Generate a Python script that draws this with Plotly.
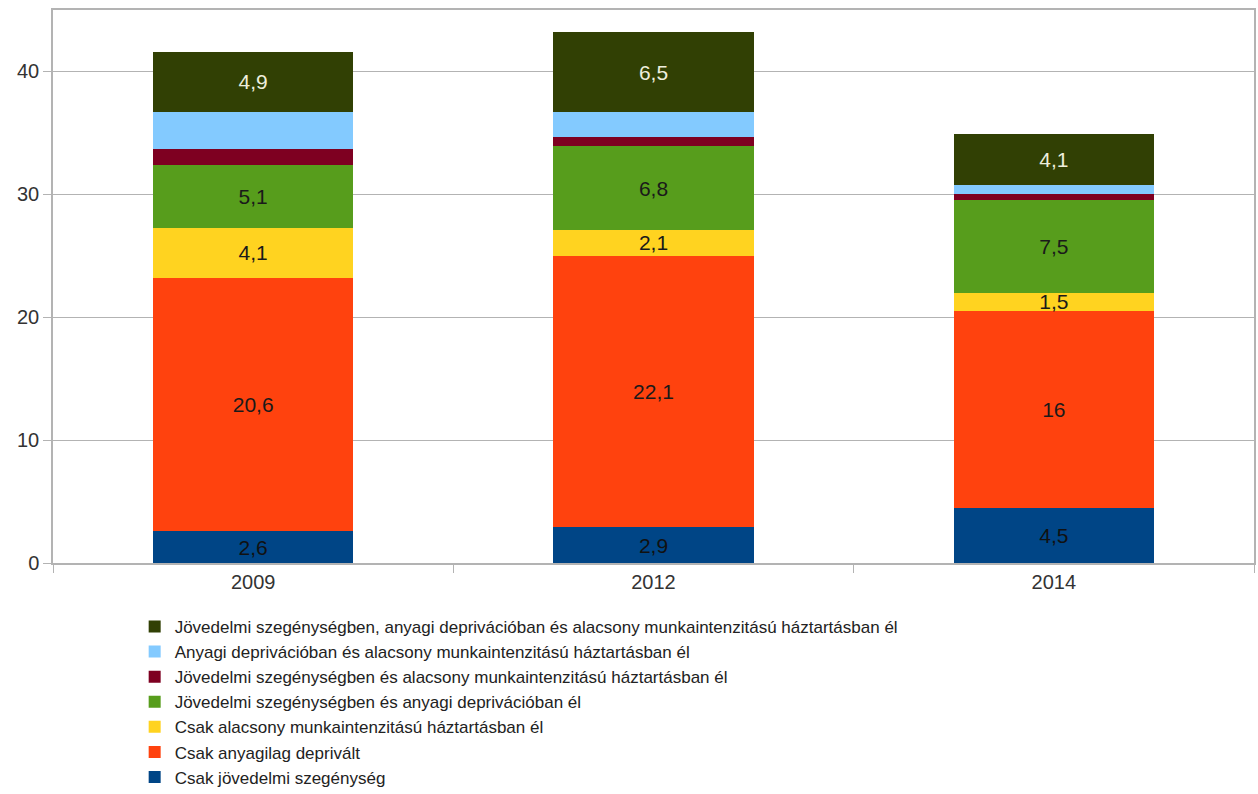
import plotly.graph_objects as go

years = ["2009", "2012", "2014"]

series_names = [
    "Csak jövedelmi szegénység",
    "Csak anyagilag deprivált",
    "Csak alacsony munkaintenzitású háztartásban él",
    "Jövedelmi szegénységben és anyagi deprivációban él",
    "Jövedelmi szegénységben és alacsony munkaintenzitású háztartásban él",
    "Anyagi deprivációban és alacsony munkaintenzitású háztartásban él",
    "Jövedelmi szegénységben, anyagi deprivációban és alacsony munkaintenzitású háztartásban él",
]

csak_jovedelmi = [2.6, 2.9, 4.5]
csak_anyagi = [20.6, 22.1, 16.0]
csak_munka = [4.1, 2.1, 1.5]
jov_anyagi = [5.1, 6.8, 7.5]
jov_munka = [1.3, 0.8, 0.5]
anyagi_munka = [3.0, 2.0, 0.8]
mindharom = [4.9, 6.5, 4.1]

series_values = [csak_jovedelmi, csak_anyagi, csak_munka, jov_anyagi,
                 jov_munka, anyagi_munka, mindharom]
show_labels = [True, True, True, True, False, False, True]

colors = ["#004586", "#ff420e", "#ffd320", "#579d1c", "#7e0021", "#83caff", "#314004"]
label_colors = ["#111111", "#1a1a1a", "#1a1a1a", "#1a1a1a", "#1a1a1a", "#1a1a1a", "#eeeedd"]


def fmt(v):
    s = ("%g" % v)
    return s.replace(".", ",")


fig = go.Figure()
for name, vals, show, col, lcol in zip(series_names, series_values, show_labels, colors, label_colors):
    fig.add_trace(go.Bar(
        x=years, y=vals, name=name,
        marker=dict(color=col, line=dict(width=0)),
        text=[fmt(v) for v in vals] if show else None,
        textposition="inside" if show else "none",
        insidetextanchor="middle",
        textangle=0,
        insidetextfont=dict(family="Liberation Sans", size=21, color=lcol),
        hoverinfo="x+y+name",
    ))

grid = "#b3b3b3"
fig.update_layout(
    barmode="stack",
    bargap=0.5,
    width=1258, height=794,
    margin=dict(l=53, r=4, t=10, b=231, autoexpand=False),
    plot_bgcolor="white", paper_bgcolor="white",
    font=dict(family="Liberation Sans", color="#333333", size=20),
    uniformtext=dict(minsize=21, mode="show"),
    legend=dict(
        traceorder="reversed",
        orientation="v",
        x=0.068, xanchor="left",
        y=-0.083, yanchor="top",
        font=dict(family="Liberation Sans", size=17, color="#222222"),
        bgcolor="rgba(0,0,0,0)",
        tracegroupgap=0,
    ),
    xaxis=dict(
        automargin=False,
        showline=True, linecolor=grid, linewidth=1.5, mirror=True,
        ticks="outside", tickson="boundaries", ticklen=8, tickcolor=grid,
        tickfont=dict(size=20, color="#333333"),
        showgrid=False,
    ),
    yaxis=dict(
        automargin=False,
        range=[0, 45],
        tickvals=[0, 10, 20, 30, 40],
        showline=True, linecolor=grid, linewidth=1.5, mirror=True,
        ticks="outside", ticklen=8, tickcolor=grid,
        showgrid=True, gridcolor=grid, gridwidth=1.2,
        zeroline=False,
        tickfont=dict(size=20, color="#333333"),
    ),
)

fig.write_html(
    "out.html",
    config={"displayModeBar": False},
    post_script="document.body.style.margin='0';document.body.style.padding='0';",
)
